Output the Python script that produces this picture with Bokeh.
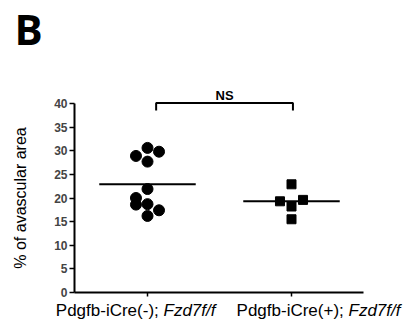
import math
from bokeh.plotting import figure
from bokeh.models import Range1d, FixedTicker
from bokeh.core.properties import value
from bokeh.embed import file_html
from bokeh.resources import INLINE

# ---- data ----
categories = [1, 2]
group_names = ["Pdgfb-iCre(-); ", "Pdgfb-iCre(+); "]
genotype = "Fzd7f/f"
ctrl_values = [28.9, 30.6, 29.8, 27.7, 21.9, 20.0, 18.6, 18.7, 17.4, 16.2]
ctrl_slot = [-1, 0, 1, 0, 0, -1, -1, 0, 1, 0]
ko_values = [22.9, 19.3, 19.6, 18.2, 15.5]
ko_slot = [0, -1, 1, 0, 0]
means = [22.9, 19.3]
y_ticks = [0, 5, 10, 15, 20, 25, 30, 35, 40]
sig_text = "NS"
sig_top = 40.1
sig_drop = 38.5
panel_letter = "B"
y_title = "% of avascular area"

# ---- layout (pixels of the 403x321 canvas) ----
W, H = 403, 321
PX_X = 144.0          # pixels per category step
PX_Y = 4.725          # pixels per % unit
CAT1_PX = 147.0       # pixel column of category 1
ZERO_PX = 292.0       # pixel row of y = 0
AXIS_LEFT_PX = 74.0
AXIS_RIGHT_PX = 363.0
BASE_SHIFT = 0.357    # em correction of the text baseline

def xd(px):
    return categories[0] + (px - CAT1_PX) / PX_X

def yd(py):
    return (ZERO_PX - py) / PX_Y

SLOT_W = 0.08
HALF_W = 0.335
FONT = "Liberation Sans"

p = figure(width=W, height=H, output_backend="svg", toolbar_location=None,
           x_range=Range1d(xd(0), xd(W)), y_range=Range1d(yd(H), yd(0)),
           min_border=0, title=None)
p.outline_line_color = None
p.grid.visible = False
p.background_fill_color = "white"
p.border_fill_color = "white"

# axes (placed at fixed data positions inside the canvas)
ya = p.yaxis[0]
ya.fixed_location = xd(AXIS_LEFT_PX)
ya.ticker = FixedTicker(ticks=y_ticks)
ya.bounds = (0, 40)
ya.axis_line_width = 2
ya.major_tick_line_width = 1.5
ya.major_tick_out = 5
ya.major_tick_in = 0
ya.minor_tick_line_color = None
ya.major_label_text_font = FONT
ya.major_label_text_font_style = "bold"
ya.major_label_text_font_size = "12px"
ya.major_label_standoff = 2

xa = p.xaxis[0]
xa.fixed_location = 0
xa.ticker = FixedTicker(ticks=categories)
xa.bounds = (xd(AXIS_LEFT_PX), xd(AXIS_RIGHT_PX))
xa.major_label_overrides = {1: "", 2: ""}
xa.axis_line_width = 2
xa.major_tick_line_width = 1.5
xa.major_tick_out = 4
xa.major_tick_in = 0
xa.minor_tick_line_color = None

# points
cx = [categories[0] + s * SLOT_W for s in ctrl_slot]
kx = [categories[1] + s * SLOT_W for s in ko_slot]
p.scatter(cx, ctrl_values, marker="circle", size=11, color="black")
p.scatter(kx, ko_values, marker="square", size=9, color="black")

# mean lines
p.segment(x0=[c - HALF_W for c in categories], x1=[c + HALF_W for c in categories],
          y0=means, y1=means, line_color="black", line_width=2)

# significance bracket
bx0 = categories[0] + 0.06
bx1 = categories[1] + 0.01
p.line([bx0, bx0, bx1, bx1], [sig_drop, sig_top, sig_top, sig_drop],
       line_color="black", line_width=2)
p.text(x=[(bx0 + bx1) / 2], y=[yd(99.3 - BASE_SHIFT * 13)], text=[sig_text],
       text_align="center", text_baseline="alphabetic", text_font=value(FONT),
       text_font_style="bold", text_font_size="13px", text_color="black")

# y axis title
p.text(x=[xd(20)], y=[20], text=[y_title], angle=math.pi / 2,
       text_align="center", text_baseline="middle", text_font=value(FONT),
       text_font_size="16px", text_color="black")

# x category labels (regular + italic part)
label_y = yd(316.5 - BASE_SHIFT * 17)
split_px = [163, 348]   # where the italic part starts
for name, sp in zip(group_names, split_px):
    p.text(x=[xd(sp)], y=[label_y], text=[name], text_align="right",
           text_baseline="alphabetic", text_font=value(FONT),
           text_font_size="17px", text_color="black")
    p.text(x=[xd(sp)], y=[label_y], text=[genotype], text_align="left",
           text_baseline="alphabetic", text_font=value(FONT),
           text_font_style="italic", text_font_size="17px", text_color="black")

# panel letter
p.text(x=[xd(14)], y=[yd(43 - BASE_SHIFT * 42)], text=[panel_letter],
       text_align="left", text_baseline="alphabetic", text_font=value("Open Sans"),
       text_font_style="bold", text_font_size="42px", text_color="black")

open("out.html", "w").write(file_html(p, INLINE))
